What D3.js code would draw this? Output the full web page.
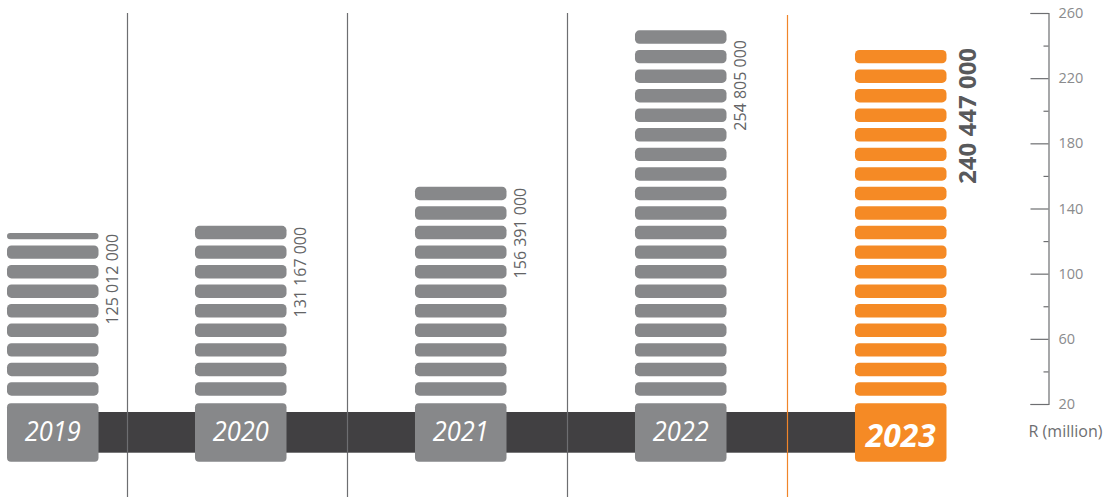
<!DOCTYPE html>
<html>
<head>
<meta charset="utf-8">
<script src="https://cdn.jsdelivr.net/npm/d3@7/dist/d3.min.js"></script>
<style>
  html, body { margin: 0; padding: 0; background: #ffffff; }
  svg { display: block; }
  text { font-family: "Open Sans", "Noto Sans", sans-serif; }
</style>
</head>
<body>
<svg id="chart" width="1113" height="497"></svg>
<script>
// ---- data ----
const years = ["2019", "2020", "2021", "2022", "2023"];
const values = [125.012, 131.167, 156.391, 254.805, 240.447]; // R million
const highlightYear = "2023";
const majorTicks = [20, 60, 100, 140, 180, 220, 260];
const minorTicks = [40, 80, 120, 160, 200, 240];
const axisTitle = "R (million)";

// ---- layout / style constants ----
const W = 1113, H = 497;
const grey = "#87888a", orange = "#f58a25", dark = "#414042";
const segStart = 25.1, segStep = 12, segFill = 8.25, segMin = 3;

const svg = d3.select("#chart");

const y = d3.scaleLinear().domain([20, 260]).range([404, 13]);
const x = d3.scaleBand().domain(years).range([-25, 946.5]).paddingInner(0.584).paddingOuter(0);
const bw = x.bandwidth();
const leftMargin = 7;
const xPos = yr => Math.max(leftMargin, x(yr));

const data = years.map((yr, i) => ({ year: yr, value: values[i], hl: yr === highlightYear }));

const divX = d => Math.round(x(d.year) - 67.5) + 0.5;

// vertical divider lines
svg.append("g").selectAll("line")
  .data(data.slice(1))
  .join("line")
  .attr("x1", divX)
  .attr("x2", divX)
  .attr("y1", d => d.hl ? 15 : 13)
  .attr("y2", H)
  .attr("stroke", d => d.hl ? "#f0852a" : "#6d6e71")
  .attr("stroke-width", 1.2);

// dark timeline band
svg.append("rect")
  .attr("x", xPos(years[0]) + bw / 2)
  .attr("y", 412)
  .attr("width", xPos(years[years.length - 1]) - xPos(years[0]))
  .attr("height", 40.7)
  .attr("fill", dark);

// divider lines cross over the band
svg.append("g").selectAll("line")
  .data(data.slice(1))
  .join("line")
  .attr("x1", divX)
  .attr("x2", divX)
  .attr("y1", 412)
  .attr("y2", 452.7)
  .attr("stroke", d => d.hl ? "#f0852a" : "#6d6e71")
  .attr("stroke-width", 1.2);

// segments
data.forEach(d => {
  const segs = [];
  for (let k = 0; segStart + k * segStep < d.value; k++) {
    const lo = segStart + k * segStep;
    const hi = Math.min(lo + segFill, d.value);
    if (hi - lo >= segMin) segs.push({ lo, hi });
  }
  d.segs = segs;
  d.top = y(segs[segs.length - 1].hi);
});

const cols = svg.append("g").selectAll("g")
  .data(data)
  .join("g")
  .attr("transform", d => `translate(${xPos(d.year)},0)`);

cols.selectAll("rect.seg")
  .data(d => d.segs.map(s => ({ ...s, hl: d.hl })))
  .join("rect")
  .attr("class", "seg")
  .attr("x", 0)
  .attr("width", bw)
  .attr("y", s => y(s.hi))
  .attr("height", s => y(s.lo) - y(s.hi))
  .attr("rx", s => Math.min(4.5, (y(s.lo) - y(s.hi)) / 2))
  .attr("fill", s => s.hl ? orange : grey);

// year boxes
cols.append("rect")
  .attr("x", 0)
  .attr("y", 403.3)
  .attr("width", bw)
  .attr("height", 58.4)
  .attr("rx", 4)
  .attr("fill", d => d.hl ? orange : grey);

cols.append("text")
  .attr("x", bw / 2)
  .attr("y", d => d.hl ? 446.5 : 440.5)
  .attr("text-anchor", "middle")
  .attr("fill", "#ffffff")
  .attr("font-style", "italic")
  .attr("font-weight", d => d.hl ? 700 : 400)
  .attr("font-size", d => d.hl ? 33 : 28)
  .attr("textLength", d => d.hl ? 70 : 56)
  .attr("lengthAdjust", "spacingAndGlyphs")
  .text(d => d.year);

// value labels (rotated)
const fmt = v => d3.format(",")(Math.round(v * 1e6)).replace(/,/g, " ");
cols.append("text")
  .attr("transform", d => {
    const tx = bw + (d.hl ? 29 : 19.5);
    const ty = d.hl ? d.top - 2 : Math.max(d.top + 1, 40);
    return `translate(${tx},${ty}) rotate(-90)`;
  })
  .attr("text-anchor", "end")
  .attr("fill", d => d.hl ? "#58595b" : "#636466")
  .attr("font-weight", d => d.hl ? 700 : 400)
  .attr("font-size", d => d.hl ? 24 : 16)
  .text(d => fmt(d.value));

// axis
const axisX = 1048.5;
const gAxis = svg.append("g").attr("transform", `translate(${axisX},0)`);
gAxis.call(d3.axisRight(y).tickValues(majorTicks).tickSizeInner(-18).tickSizeOuter(-18).tickPadding(10));
gAxis.select(".domain").attr("stroke", "#6d6e71").attr("stroke-width", 1.2);
gAxis.selectAll(".tick line").attr("stroke", "#6d6e71").attr("stroke-width", 1.2);
gAxis.selectAll(".tick text")
  .attr("fill", "#8a8b8d")
  .attr("font-size", 14.5)
  .attr("font-family", "'Open Sans', 'Noto Sans', sans-serif");

const gMinor = svg.append("g").attr("transform", `translate(${axisX},0)`);
gMinor.call(d3.axisRight(y).tickValues(minorTicks).tickSizeInner(-5).tickSizeOuter(0).tickFormat(""));
gMinor.select(".domain").remove();
gMinor.selectAll(".tick line").attr("stroke", "#6d6e71").attr("stroke-width", 1.2);

svg.append("text")
  .attr("x", 1065.5)
  .attr("y", 436.5)
  .attr("text-anchor", "middle")
  .attr("fill", "#6d6e71")
  .attr("font-size", 16)
  .text(axisTitle);
</script>
</body>
</html>
